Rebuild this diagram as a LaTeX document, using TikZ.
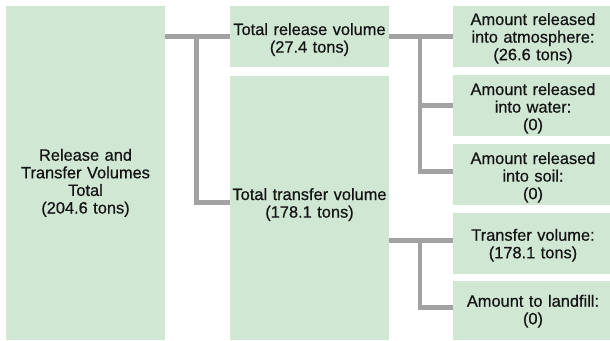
\documentclass[tikz,border=0pt]{standalone}
\usepackage{fontspec}
\setmainfont{Liberation Sans}
\newfontfamily\medfont{Liberation Sans}[FakeBold=0.6]
\usetikzlibrary{calc}
\definecolor{boxgreen}{HTML}{D0E7D3}
\definecolor{linegray}{HTML}{A2A2A2}
\definecolor{txtcol}{HTML}{141414}
\tikzset{
  boxnode/.style={rectangle, anchor=north west, fill=boxgreen, draw=none, inner sep=0pt, outer sep=0pt},
  txt/.style={anchor=base, text width=156pt, align=center, inner sep=0pt, text=txtcol, font=\medfont\fontsize{16.4}{17.6}\selectfont},
  conn/.style={draw=linegray, line width=4.5pt, line join=miter}
}
\begin{document}
\begin{tikzpicture}[x=1pt,y=-1pt]
\useasboundingbox (0,0) rectangle (610,340);
% boxes
\node[boxnode, minimum width=159pt, minimum height=334pt] (b1) at (6,6) {};
\node[boxnode, minimum width=159pt, minimum height=61pt] (b2) at (230,6) {};
\node[boxnode, minimum width=159pt, minimum height=264pt] (b3) at (230,76) {};
\node[boxnode, minimum width=157pt, minimum height=61pt] (r1) at (453,6) {};
\node[boxnode, minimum width=157pt, minimum height=61pt] (r2) at (453,75) {};
\node[boxnode, minimum width=157pt, minimum height=61pt] (r3) at (453,144) {};
\node[boxnode, minimum width=157pt, minimum height=61pt] (r4) at (453,213) {};
\node[boxnode, minimum width=157pt, minimum height=59pt] (r5) at (453,281) {};
% texts
\node[txt] (t1) at (85.5,160.7) {Release and\\Transfer Volumes\\Total\\(204.6 tons)};
\node[txt] (t2) at (309.5,35) {Total release volume\\(27.4 tons)};
\node[txt] (t3) at (309.5,200) {Total transfer volume\\(178.1 tons)};
\node[txt] (s1) at (533,25) {Amount released\\into atmosphere:\\(26.6 tons)};
\node[txt] (s2) at (533,95) {Amount released\\into water:\\(0)};
\node[txt] (s3) at (533,164) {Amount released\\into soil:\\(0)};
\node[txt] (s4) at (533,240.7) {Transfer volume:\\(178.1 tons)};
\node[txt] (s5) at (533,306.7) {Amount to landfill:\\(0)};
% connectors
\draw[conn] (b1.east |- b2.west) -- (b2.west);
\draw[conn] ($(b1.east |- b2.west)+(31.5,0)$) |- ($(b3.north west)+(0,126.7)$);
\draw[conn] (b2.east) -- (r1.west);
\draw[conn] ($(b2.east)+(31,0)$) |- ($(r3.north west)+(0,27.7)$);
\draw[conn] ($(r2.north west)+(0,30.7)$) -- ++(-33,0);
\draw[conn] ($(b3.north east)+(0,164.7)$) -- ($(r4.north west)+(0,27.7)$);
\draw[conn] ($(r4.north west)+(-33,27.7)$) |- ($(r5.north west)+(0,26.3)$);
\end{tikzpicture}
\end{document}
